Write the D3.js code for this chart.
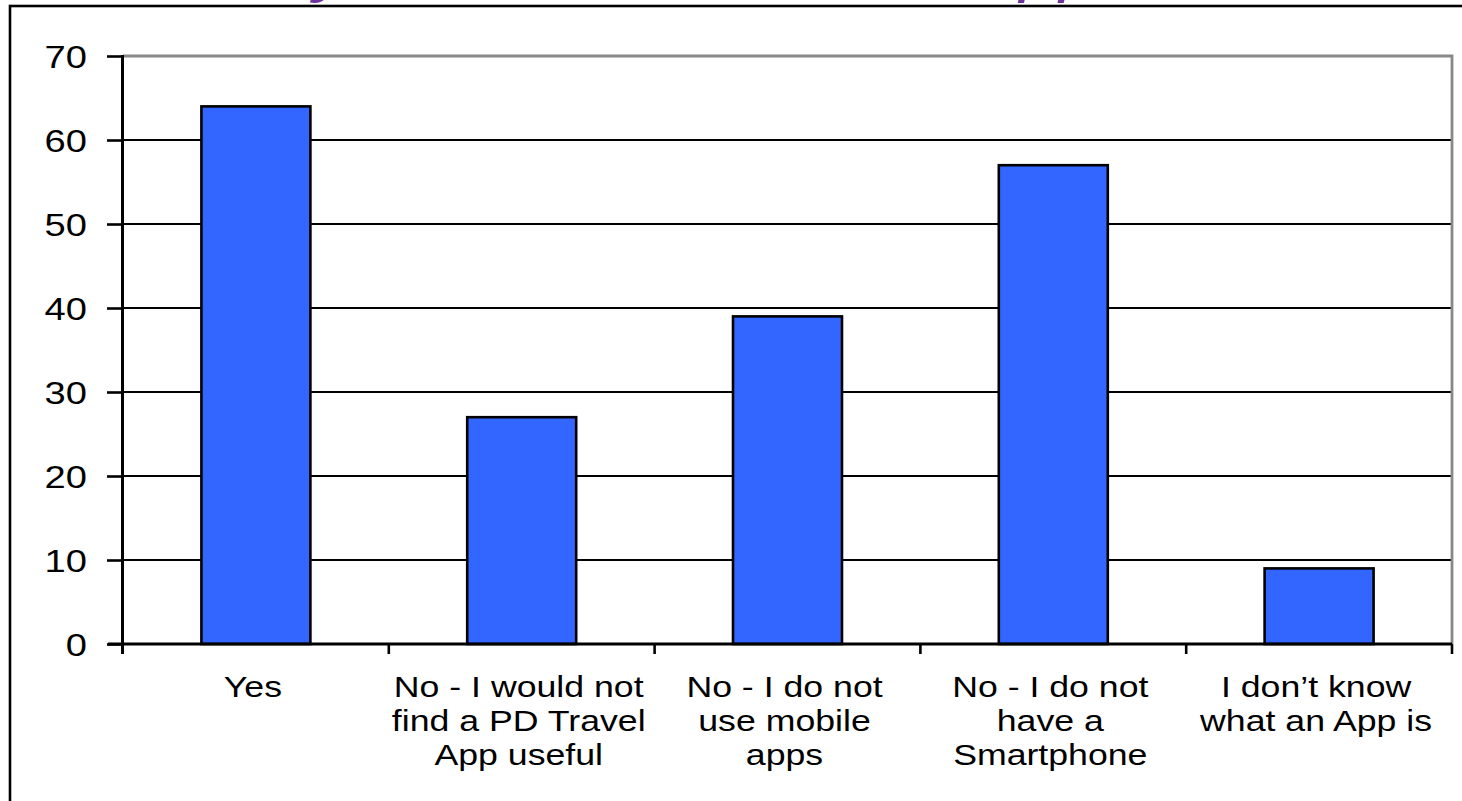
<!DOCTYPE html>
<html>
<head>
<meta charset="utf-8">
<script src="https://cdn.jsdelivr.net/npm/d3@7"></script>
<style>
  html, body { margin: 0; padding: 0; background: #fff; overflow: hidden; }
  text { font-family: "Liberation Sans", Arial, sans-serif; fill: #000; }
</style>
</head>
<body>
<div id="chart"></div>
<script>
// chart data
var categories = ["Yes", "No - I would not find a PD Travel App useful", "No - I do not use mobile apps", "No - I do not have a Smartphone", "I don\u2019t know what an App is"];
var labelLines = [
    ["Yes"],
    ["No - I would not", "find a PD Travel", "App useful"],
    ["No - I do not", "use mobile", "apps"],
    ["No - I do not", "have a", "Smartphone"],
    ["I don\u2019t know", "what an App is"]
];
var values = [64, 27, 39, 57, 9];
var yTicks = [0, 10, 20, 30, 40, 50, 60, 70];
var title = "Would you use a PD Travel App?";

const width = 1462, height = 801;
const stretch = 1.23;   // text in the original is stretched sideways

var svg = d3.select("#chart")
    .append("svg")
    .attr("width", width)
    .attr("height", height);

svg.append("rect").attr("width", width).attr("height", height).attr("fill", "#fff");

// title, mostly cut off at the top of the picture
svg.append("text")
    .attr("transform", "translate(92,-9) scale(" + stretch + ",1)")
    .style("font-size", "58px")
    .style("font-style", "italic")
    .style("fill", "#7030A0")
    .text(title);

// outer frame
svg.append("rect")
    .attr("x", 10).attr("y", 6)
    .attr("width", 1500).attr("height", 900)
    .attr("fill", "none").attr("stroke", "#000").attr("stroke-width", 2.6);

var x = d3.scaleBand().domain(categories).range([123, 1452]).padding(0);
var y = d3.scaleLinear().domain([0, 70]).range([644, 56]);

// gridlines
svg.append("g").selectAll("line")
    .data(yTicks.filter(function(d) { return d > 0 && d < 70; }))
    .enter().append("line")
    .attr("x1", 123).attr("x2", 1452)
    .attr("y1", function(d) { return y(d); })
    .attr("y2", function(d) { return y(d); })
    .attr("stroke", "#000").attr("stroke-width", 2);

// top and right border of plot area
svg.append("path")
    .attr("d", "M123," + y(70) + "H1452V" + y(0))
    .attr("fill", "none").attr("stroke", "#888").attr("stroke-width", 2.8);

// bars
var bw = x.bandwidth() * 0.41;
svg.append("g").selectAll("rect")
    .data(values)
    .enter().append("rect")
    .attr("x", function(d, i) { return x(categories[i]) + x.bandwidth() / 2 - bw / 2; })
    .attr("y", function(d) { return y(d); })
    .attr("width", bw)
    .attr("height", function(d) { return y(0) - y(d); })
    .attr("fill", "#3366FF")
    .attr("stroke", "#000")
    .attr("stroke-width", 2.6);

// y axis
var yAxis = svg.append("g")
    .attr("transform", "translate(123,0)")
    .call(d3.axisLeft(y).tickValues(yTicks).tickSize(16).tickSizeOuter(0));
yAxis.select(".domain").remove();
yAxis.selectAll(".tick line").attr("stroke", "#000").attr("stroke-width", 2.6);
yAxis.selectAll(".tick text")
    .attr("x", null).attr("dy", null)
    .attr("transform", "translate(-36,11) scale(" + stretch + ",1)")
    .style("font-size", "31px");

// axis lines
svg.append("line")
    .attr("x1", 122.5).attr("x2", 122.5)
    .attr("y1", y(70) - 1).attr("y2", y(0) + 10)
    .attr("stroke", "#000").attr("stroke-width", 3);
svg.append("line")
    .attr("x1", 108).attr("x2", 1452)
    .attr("y1", y(0)).attr("y2", y(0))
    .attr("stroke", "#000").attr("stroke-width", 2.8);

// category boundary ticks
var bounds = categories.map(function(c) { return x(c); }).concat([x.range()[1]]);
svg.append("g").selectAll("line")
    .data(bounds.slice(1))
    .enter().append("line")
    .attr("x1", function(d) { return d; })
    .attr("x2", function(d) { return d; })
    .attr("y1", y(0)).attr("y2", y(0) + 10)
    .attr("stroke", "#000").attr("stroke-width", 2.6);

// x axis labels
var xAxis = svg.append("g")
    .attr("transform", "translate(0," + y(0) + ")")
    .call(d3.axisBottom(x).tickSize(0).tickFormat(""));
xAxis.select(".domain").remove();
xAxis.selectAll(".tick text")
    .attr("y", null).attr("dy", null)
    .attr("transform", "translate(-3,53) scale(" + stretch + ",1)")
    .style("font-size", "29px")
    .each(function(d, i) {
        var t = d3.select(this);
        labelLines[i].forEach(function(line, k) {
            t.append("tspan").attr("x", 0).attr("y", k * 34).text(line);
        });
    });
</script>
</body>
</html>
